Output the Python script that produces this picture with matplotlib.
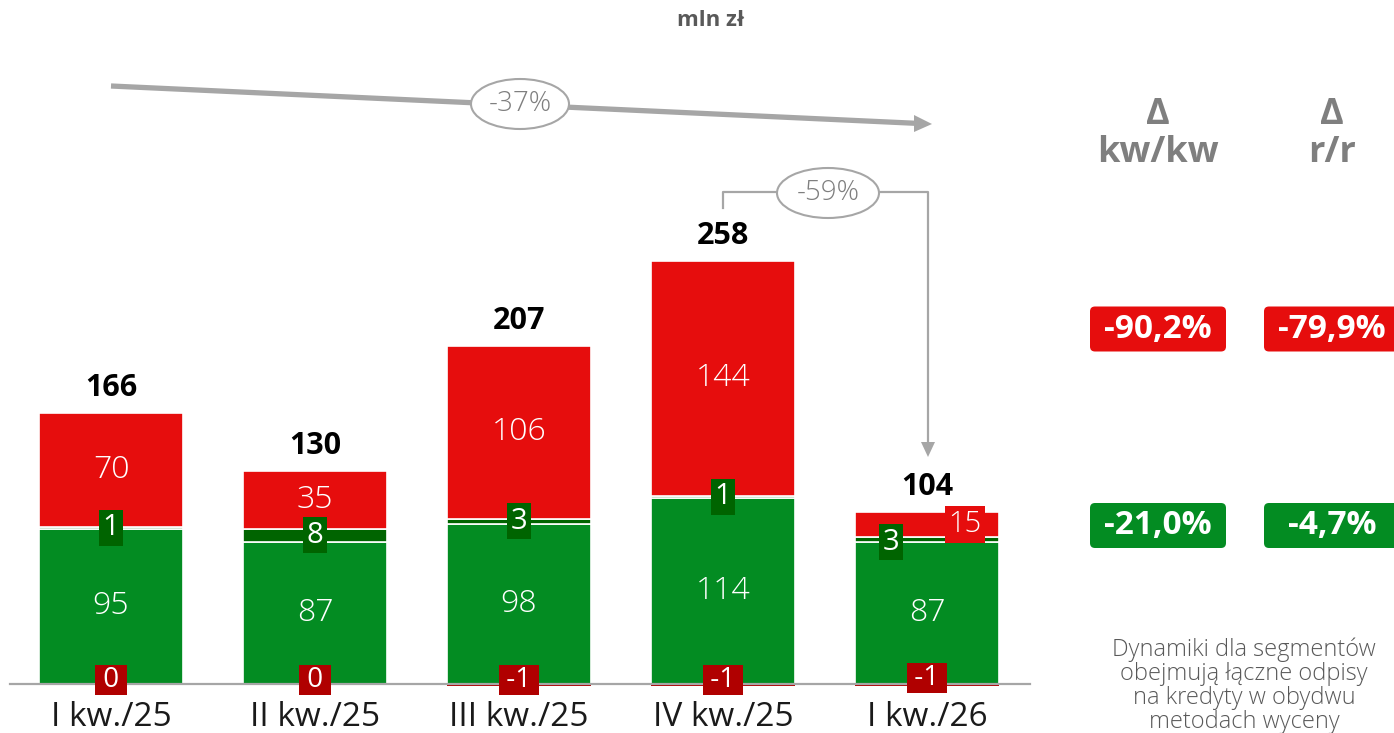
import matplotlib
matplotlib.use('Agg')
import matplotlib.pyplot as plt
import numpy as np
from matplotlib.patches import Ellipse, FancyBboxPatch, Polygon

plt.rcParams['font.family'] = ['Open Sans', 'DejaVu Sans']

# ---------------- data ----------------
categories = ['I kw./25', 'II kw./25', 'III kw./25', 'IV kw./25', 'I kw./26']
green_vals = [95, 87, 98, 114, 87]
darkgreen_vals = [1, 8, 3, 1, 3]
red_vals = [70, 35, 106, 144, 15]
darkred_vals = [0, 0, -1, -1, -1]
totals = [166, 130, 207, 258, 104]
trend_label = '-37%'
qoq_label = '-59%'
delta_headers = ['Δ\nkw/kw', 'Δ\nr/r']
red_deltas = ['-90,2%', '-79,9%']
green_deltas = ['-21,0%', '-4,7%']
note = 'Dynamiki dla segmentów\nobejmują łączne odpisy\nna kredyty w obydwu\nmetodach wyceny'
unit = 'mln zł'

# ---------------- style ----------------
RED = '#E60D0D'
GREEN = '#038C22'
DGREEN = '#006400'
DRED = '#B00000'
GREY = '#A6A6A6'
TXTGREY = '#7F7F7F'

W, H = 1394, 733
X0, STEP = 111, 204          # pixel centre of first bar, spacing
BASE, PXU = 684, 1.635       # baseline pixel row, pixels per unit

fig = plt.figure(figsize=(W / 100, H / 100), dpi=100)
ax = fig.add_axes([0, 0, 1, 1])
ax.set_xlim((0 - X0) / STEP, (W - X0) / STEP)
ax.set_ylim(-(H - BASE) / PXU, BASE / PXU)
ax.axis('off')

ov = fig.add_axes([0, 0, 1, 1], zorder=5)
ov.set_xlim(0, W)
ov.set_ylim(H, 0)
ov.axis('off')
ov.patch.set_alpha(0)

x = np.arange(len(categories))
g = np.array(green_vals)
dg = np.array(darkgreen_vals)
r = np.array(red_vals)
dr = np.array(darkred_vals)
width = 144 / STEP

ax.bar(x, g, width, color=GREEN, edgecolor='white', linewidth=1.2, zorder=2)
ax.bar(x, dg, width, bottom=g, color=DGREEN, edgecolor='white', linewidth=1.2, zorder=2)
ax.bar(x, r, width, bottom=g + dg, color=RED, edgecolor='white', linewidth=1.2, zorder=2)
ax.bar(x, dr, width, color=DRED, linewidth=0, zorder=2)

# baseline
ax.plot([(10 - X0) / STEP, (1030 - X0) / STEP], [0, 0], color=GREY, lw=1.6, zorder=3)

FS = 23
for i in range(len(x)):
    last = (i == len(x) - 1)
    # green segment label
    ax.text(x[i], g[i] / 2, str(g[i]), ha='center', va='center', color='white',
            fontsize=FS, fontweight='light', zorder=4)
    # red segment label
    rx = x[i] + (38 / STEP if last else 0)
    ry = g[i] + dg[i] + r[i] / 2
    ax.text(rx, ry, str(r[i]), ha='center', va='center', color='white',
            fontsize=FS if not last else 21, fontweight='light', zorder=6,
            bbox=dict(boxstyle='square,pad=0.12', fc=RED, ec='none') if last else None)
    # dark green label box
    gx = x[i] - (36 / STEP if last else 0)
    gy = g[i] + dg[i] / 2 - (3 / PXU if last else 0)
    ax.text(gx, gy, str(dg[i]), ha='center', va='center', color='white',
            fontsize=21, zorder=6,
            bbox=dict(boxstyle='square,pad=0.12', fc=DGREEN, ec='none'))
    # dark red label box at baseline
    ax.text(x[i], (4 if not last else 6) / PXU, ' ' + str(dr[i]) + ' ', ha='center',
            va='center', color='white', fontsize=20, zorder=6,
            bbox=dict(boxstyle='square,pad=0.02', fc=DRED, ec='none'))
    # total label
    top = g[i] + dg[i] + r[i]
    ax.text(x[i], top + 25 / PXU, str(totals[i]), ha='center', va='center',
            color='black', fontsize=22, fontweight='bold', zorder=6)
    # category label
    ax.text(x[i], -(718 - BASE) / PXU, categories[i], ha='center', va='center',
            color='#1A1A1A', fontsize=24, zorder=6)

# unit
ov.text(711, 21, unit, ha='center', va='center', color='#595959', fontsize=16,
        fontweight='bold')

# -37% trend arrow
ov.plot([111, 920], [86, 123.5], color=GREY, lw=3.8, solid_capstyle='butt', zorder=1)
ov.add_patch(Polygon([[914, 115], [932, 124], [914, 132]], closed=True, fc=GREY, ec='none'))
ov.add_patch(Ellipse((520, 104), 98, 50, fc='white', ec=GREY, lw=1.5, zorder=2))
ov.text(520, 104, trend_label, ha='center', va='center', color=TXTGREY, fontsize=20,
        fontweight='light', zorder=3)

# -59% bracket arrow
ov.plot([723, 723, 928, 928], [208, 192, 192, 444], color=GREY, lw=1.6, zorder=1)
ov.add_patch(Polygon([[921, 442], [928, 457], [935, 442]], closed=True, fc=GREY, ec='none'))
ov.add_patch(Ellipse((828, 193), 102, 50, fc='white', ec=GREY, lw=1.5, zorder=2))
ov.text(828, 193, qoq_label, ha='center', va='center', color=TXTGREY, fontsize=20,
        fontweight='light', zorder=3)

# right panel
hx = [1158, 1332]
for j in range(2):
    ov.text(hx[j], 134, delta_headers[j], ha='center', va='center', color=TXTGREY,
            fontsize=26, fontweight='bold', linespacing=1.05)
    for yc, lab, col in [(329, red_deltas[j], RED), (525.5, green_deltas[j], GREEN)]:
        bx = hx[j] - 68
        ov.add_patch(FancyBboxPatch((bx + 4, yc - 22.5 + 4), 136 - 8, 45 - 8,
                                    boxstyle='round,pad=4,rounding_size=5',
                                    fc=col, ec='none', zorder=2))
        ov.text(hx[j], yc, lab, ha='center', va='center', color='white', fontsize=24,
                fontweight='bold', zorder=3)

ov.text(1244, 686, note, ha='center', va='center', color='#595959', fontsize=17,
        fontweight='light', linespacing=1.0)

fig.savefig('out.png', dpi=100)
